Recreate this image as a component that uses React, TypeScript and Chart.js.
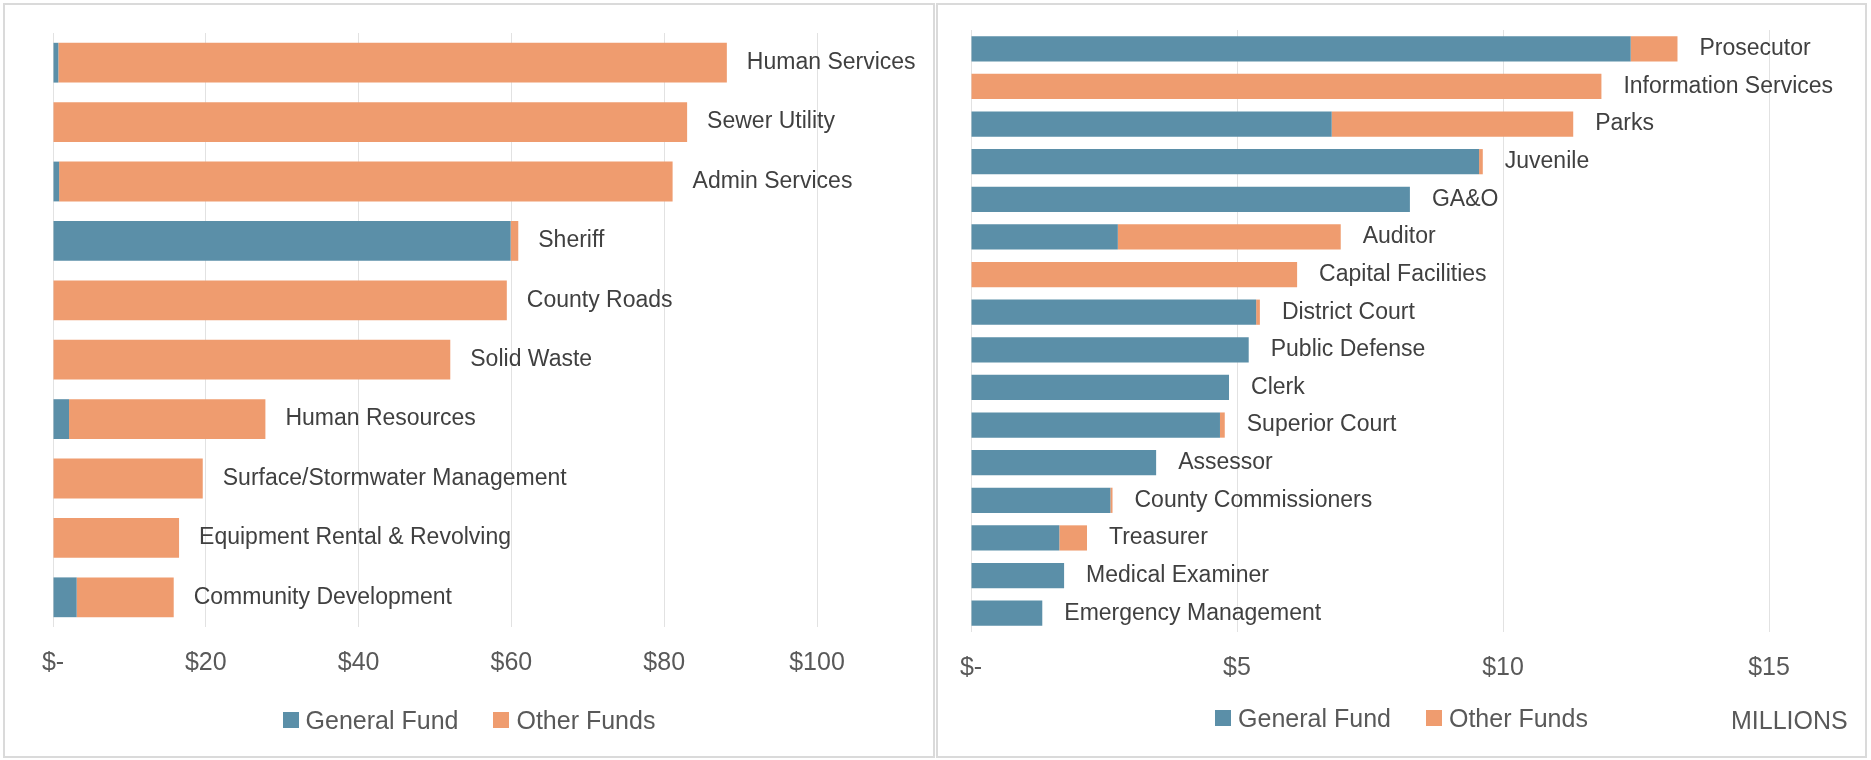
import React, { useEffect, useRef } from "react";
import { Chart, registerables } from "chart.js";

Chart.register(...registerables);

// ---------- data ----------
const leftCategories = [
  "Human Services",
  "Sewer Utility",
  "Admin Services",
  "Sheriff",
  "County Roads",
  "Solid Waste",
  "Human Resources",
  "Surface/Stormwater Management",
  "Equipment Rental & Revolving",
  "Community Development",
];
const leftGeneralFund = [0.7, 0, 0.8, 59.9, 0, 0, 2.1, 0, 0, 3.1];
const leftOtherFunds = [87.5, 83.0, 80.3, 1.0, 59.4, 52.0, 25.7, 19.6, 16.5, 12.7];
const leftTickMax = 100;
const leftTickStep = 20;

const rightCategories = [
  "Prosecutor",
  "Information Services",
  "Parks",
  "Juvenile",
  "GA&O",
  "Auditor",
  "Capital Facilities",
  "District Court",
  "Public Defense",
  "Clerk",
  "Superior Court",
  "Assessor",
  "County Commissioners",
  "Treasurer",
  "Medical Examiner",
  "Emergency Management",
];
const rightGeneralFund = [12.4, 0, 6.78, 9.55, 8.25, 2.76, 0, 5.36, 5.22, 4.85, 4.68, 3.48, 2.62, 1.66, 1.75, 1.34];
const rightOtherFunds = [0.88, 11.85, 4.54, 0.07, 0, 4.19, 6.13, 0.07, 0, 0, 0.09, 0, 0.04, 0.52, 0, 0];
const rightTickMax = 15;
const rightTickStep = 5;

const seriesNames = ["General Fund", "Other Funds"];
const unitLabel = "MILLIONS";

// ---------- styles ----------
const BLUE = "#5b8fa8";
const ORANGE = "#ef9c6f";
const FONT = "'Liberation Sans', Arial, sans-serif";
const TEXT = "#404040";
const TICK_TEXT = "#595959";

const barLabelPlugin = (gap: number) => ({
  id: "barEndLabels",
  afterDatasetsDraw(chart: any) {
    const ctx = chart.ctx;
    const meta = chart.getDatasetMeta(1);
    const meta0 = chart.getDatasetMeta(0);
    const labels = chart.data.labels as string[];
    ctx.save();
    ctx.font = `23px ${FONT}`;
    ctx.fillStyle = TEXT;
    ctx.textBaseline = "middle";
    ctx.textAlign = "left";
    labels.forEach((lab, i) => {
      const e1 = meta.data[i] as any;
      const e0 = meta0.data[i] as any;
      const x = Math.max(e1.x, e0.x);
      ctx.fillText(lab, x + gap, e1.y);
    });
    ctx.restore();
  },
});

type PanelProps = {
  categories: string[];
  general: number[];
  other: number[];
  max: number;
  step: number;
  width: number;
  height: number;
  padding: { left: number; right: number; top: number; bottom: number };
  gap: number;
};

function BarPanel(p: PanelProps) {
  const ref = useRef<HTMLCanvasElement | null>(null);
  useEffect(() => {
    if (!ref.current) return;
    const chart = new Chart(ref.current, {
      type: "bar",
      data: {
        labels: p.categories,
        datasets: [
          {
            label: seriesNames[0],
            data: p.general,
            backgroundColor: BLUE,
            borderWidth: 0,
            categoryPercentage: 1,
            barPercentage: 0.67,
          },
          {
            label: seriesNames[1],
            data: p.other,
            backgroundColor: ORANGE,
            borderWidth: 0,
            categoryPercentage: 1,
            barPercentage: 0.67,
          },
        ],
      },
      options: {
        indexAxis: "y",
        responsive: false,
        animation: false,
        devicePixelRatio: 1,
        layout: { padding: p.padding },
        plugins: {
          legend: { display: false },
          tooltip: { enabled: false },
        },
        scales: {
          x: {
            stacked: true,
            min: 0,
            max: p.max,
            border: { display: false },
            grid: { color: "#e2e2e2", lineWidth: 1, drawTicks: false },
            ticks: {
              stepSize: p.step,
              padding: 21,
              color: TICK_TEXT,
              font: { family: FONT, size: 25 },
              callback: (v: any) => (Number(v) === 0 ? "$-" : "$" + v),
            },
          },
          y: {
            stacked: true,
            display: false,
          },
        },
      },
      plugins: [barLabelPlugin(p.gap)],
    });
    return () => chart.destroy();
  }, []);
  return (
    <canvas
      ref={ref}
      width={p.width}
      height={p.height}
      style={{ position: "absolute", left: 0, top: 0, width: p.width, height: p.height }}
    />
  );
}

function Legend({ top }: { top: number }) {
  const colors = [BLUE, ORANGE];
  return (
    <div
      style={{
        position: "absolute",
        left: 0,
        right: 0,
        top,
        height: 30,
        display: "flex",
        justifyContent: "center",
        alignItems: "center",
        gap: 35,
        fontFamily: FONT,
        fontSize: 25,
        color: TICK_TEXT,
      }}
    >
      {seriesNames.map((n, i) => (
        <div key={n} style={{ display: "flex", alignItems: "center", gap: 7 }}>
          <div style={{ width: 16, height: 16, background: colors[i] }} />
          <span style={{ lineHeight: "30px", whiteSpace: "nowrap" }}>{n}</span>
        </div>
      ))}
    </div>
  );
}

export default function App() {
  const panelStyle = (left: number, width: number): React.CSSProperties => ({
    position: "absolute",
    left,
    top: 3,
    width,
    height: 755,
    border: "2px solid #dadada",
    boxSizing: "border-box",
    background: "#fff",
  });
  return (
    <div
      style={{
        position: "absolute",
        left: 0,
        top: 0,
        width: 1871,
        height: 760,
        background: "#fff",
        overflow: "hidden",
      }}
    >
      <div style={panelStyle(3, 932)}>
        <BarPanel
          categories={leftCategories}
          general={leftGeneralFund}
          other={leftOtherFunds}
          max={leftTickMax}
          step={leftTickStep}
          width={928}
          height={751}
          padding={{ left: 48, right: 116, top: 28, bottom: 57 }}
          gap={20}
        />
        <Legend top={700} />
      </div>
      <div style={panelStyle(936, 931)}>
        <BarPanel
          categories={rightCategories}
          general={rightGeneralFund}
          other={rightOtherFunds}
          max={rightTickMax}
          step={rightTickStep}
          width={927}
          height={751}
          padding={{ left: 33, right: 96, top: 25, bottom: 52 }}
          gap={22}
        />
        <Legend top={698} />
        <div
          style={{
            position: "absolute",
            left: 793,
            top: 700,
            lineHeight: "30px",
            fontFamily: FONT,
            fontSize: 25,
            color: TICK_TEXT,
            whiteSpace: "nowrap",
          }}
        >
          {unitLabel}
        </div>
      </div>
    </div>
  );
}
